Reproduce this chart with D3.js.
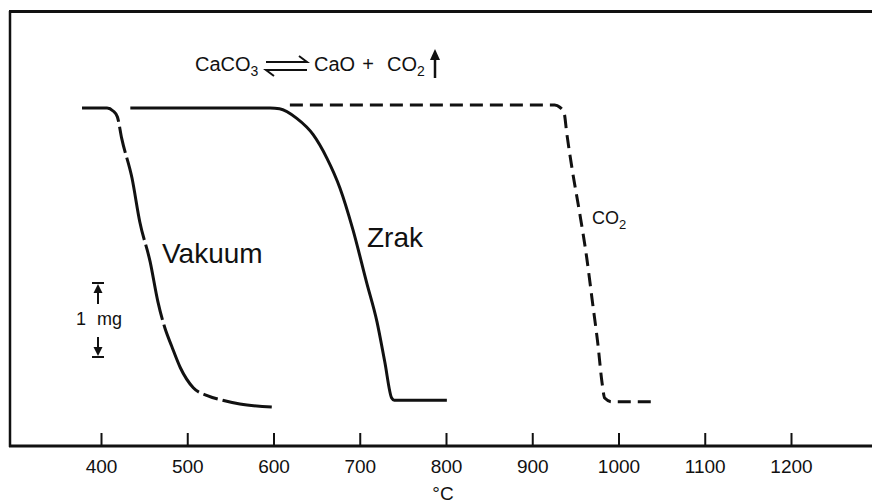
<!DOCTYPE html>
<html>
<head>
<meta charset="utf-8">
<script src="https://cdn.jsdelivr.net/npm/d3@7"></script>
<style>
  body { margin: 0; background: #fff; }
  svg { display: block; }
  text { font-family: "Liberation Sans", Arial, Helvetica, sans-serif; fill: #111; }
</style>
</head>
<body>
<svg id="chart" width="872" height="504"></svg>
<script>
// Thermogravimetric decomposition of CaCO3 in three atmospheres
// temperature in °C, mass change in mg relative to the starting mass
const xTicks = [400, 500, 600, 700, 800, 900, 1000, 1100, 1200];

const vakuumT = [378, 407, 414, 419, 424, 436, 445, 457, 466, 474, 482, 492, 507, 524, 541, 561, 598];
const vakuumM = [0, 0, -0.04, -0.12, -0.41, -0.95, -1.54, -2.08, -2.62, -2.97, -3.22, -3.51, -3.78, -3.89, -3.95, -4.0, -4.04];

const zrakT = [434, 596, 607, 627, 646, 662, 677, 692, 708, 720, 729, 737, 740, 801];
const zrakM = [0, 0, -0.01, -0.14, -0.36, -0.68, -1.08, -1.64, -2.36, -2.89, -3.43, -3.92, -3.95, -3.95];

const co2T = [619, 926, 932, 937, 940, 947, 955, 963, 970, 976, 981, 984, 992, 1045];
const co2M = [0.04, 0.04, 0.01, -0.07, -0.34, -0.88, -1.42, -2.01, -2.64, -3.18, -3.72, -3.92, -3.97, -3.97];

// where the vacuum trace is interrupted (temperatures along the trace)
const vakuumBreaksT = [421, 429, 451, 472, 516, 538];

// 1 mg scale bar: upper end (mg)
const scaleBarTop = -2.365;

const svg = d3.select("#chart");
const x = d3.scaleLinear().domain([400, 1200]).range([101, 791]);
const y = d3.scaleLinear().domain([0, -4]).range([108, 404]);

// frame: left and top edges, bottom axis line
const frame = svg.append("g").attr("stroke", "#111").attr("fill", "none");
frame.append("line").attr("x1", 10).attr("x2", 10).attr("y1", 11).attr("y2", 447).attr("stroke-width", 2.5);
frame.append("line").attr("x1", 9).attr("x2", 872).attr("y1", 11.5).attr("y2", 11.5).attr("stroke-width", 3);
frame.append("line").attr("x1", 9).attr("x2", 872).attr("y1", 446).attr("y2", 446).attr("stroke-width", 3);

// temperature axis with inward ticks
const axis = svg.append("g")
  .attr("transform", "translate(0,446)")
  .call(d3.axisBottom(x).tickValues(xTicks).tickSize(-13).tickPadding(14).tickFormat(d3.format("d")));
axis.select(".domain").remove();
axis.selectAll(".tick line").attr("stroke", "#111").attr("stroke-width", 2);
axis.selectAll(".tick text")
  .attr("font-size", 19)
  .attr("font-family", "'Liberation Sans', Arial, sans-serif")
  .attr("fill", "#111");

svg.append("text").attr("x", 443).attr("y", 500).attr("text-anchor", "middle")
  .attr("font-size", 19).text("°C");

// curves
const line = d3.line()
  .x(d => x(d[0]))
  .y(d => y(d[1]))
  .curve(d3.curveMonotoneX);

const vakuum = d3.zip(vakuumT, vakuumM);
const zrak = d3.zip(zrakT, zrakM);
const co2 = d3.zip(co2T, co2M);

const vPath = svg.append("path").datum(vakuum)
  .attr("d", line).attr("fill", "none").attr("stroke", "#111")
  .attr("stroke-width", 3).attr("stroke-linecap", "butt");

// build a dash pattern that leaves short gaps at the break temperatures
(function () {
  const node = vPath.node();
  const total = node.getTotalLength();
  const breaks = vakuumBreaksT.map(t => {
    const tx = x(t);
    let lo = 0, hi = total;
    for (let i = 0; i < 40; i++) {
      const mid = (lo + hi) / 2;
      if (node.getPointAtLength(mid).x < tx) lo = mid; else hi = mid;
    }
    return lo;
  }).sort((a, b) => a - b);
  const gap = 5;
  const dash = [];
  let pos = 0;
  breaks.forEach(b => {
    dash.push(Math.max(0, b - gap / 2 - pos), gap);
    pos = b + gap / 2;
  });
  dash.push(total - pos + 10, 0);
  vPath.attr("stroke-dasharray", dash.join(","));
})();

svg.append("path").datum(zrak)
  .attr("d", line).attr("fill", "none").attr("stroke", "#111")
  .attr("stroke-width", 3);

svg.append("path").datum(co2)
  .attr("d", line).attr("fill", "none").attr("stroke", "#111")
  .attr("stroke-width", 3).attr("stroke-dasharray", "13,7");

// curve labels
svg.append("text").attr("x", 162).attr("y", 263).attr("font-size", 28).text("Vakuum");
svg.append("text").attr("x", 367).attr("y", 247).attr("font-size", 28).text("Zrak");
const co2Lbl = svg.append("text").attr("x", 592).attr("y", 224).attr("font-size", 18);
co2Lbl.append("tspan").text("CO");
co2Lbl.append("tspan").attr("font-size", 13).attr("dy", 5).text("2");

// reaction equation
const eq = svg.append("g");
const eqY = 71;
const t1 = eq.append("text").attr("x", 195).attr("y", eqY).attr("font-size", 20);
t1.append("tspan").text("CaCO");
t1.append("tspan").attr("font-size", 14).attr("dy", 5).text("3");
eq.append("text").attr("x", 314).attr("y", eqY).attr("font-size", 20).text("CaO");
eq.append("text").attr("x", 368).attr("y", eqY).attr("font-size", 20).attr("text-anchor", "middle").text("+");
const t2 = eq.append("text").attr("x", 387).attr("y", eqY).attr("font-size", 20);
t2.append("tspan").text("CO");
t2.append("tspan").attr("font-size", 14).attr("dy", 5).text("2");

// equilibrium harpoons
eq.append("path")
  .attr("d", "M266,62 H307 L299,56")
  .attr("fill", "none").attr("stroke", "#111").attr("stroke-width", 2);
eq.append("path")
  .attr("d", "M307,70 H266 L274,76")
  .attr("fill", "none").attr("stroke", "#111").attr("stroke-width", 2);

// gas escape arrow
eq.append("line").attr("x1", 435).attr("x2", 435).attr("y1", 78).attr("y2", 56)
  .attr("stroke", "#111").attr("stroke-width", 2.5);
eq.append("path").attr("d", "M430,60 L435,49 L440,60 Z").attr("fill", "#111");

// 1 mg scale bar
const sb = svg.append("g").attr("stroke", "#111").attr("fill", "#111");
const sTop = y(scaleBarTop), sBot = y(scaleBarTop - 1), sx = 98;
sb.append("line").attr("x1", sx - 6).attr("x2", sx + 6).attr("y1", sTop).attr("y2", sTop).attr("stroke-width", 2);
sb.append("path").attr("d", `M${sx - 4.5},${sTop + 10} L${sx},${sTop + 1} L${sx + 4.5},${sTop + 10} Z`).attr("stroke", "none");
sb.append("line").attr("x1", sx).attr("x2", sx).attr("y1", sTop + 6).attr("y2", sTop + 21).attr("stroke-width", 2);
sb.append("line").attr("x1", sx - 6).attr("x2", sx + 6).attr("y1", sBot).attr("y2", sBot).attr("stroke-width", 2);
sb.append("path").attr("d", `M${sx - 4.5},${sBot - 10} L${sx},${sBot - 1} L${sx + 4.5},${sBot - 10} Z`).attr("stroke", "none");
sb.append("line").attr("x1", sx).attr("x2", sx).attr("y1", sBot - 6).attr("y2", sBot - 20).attr("stroke-width", 2);
svg.append("text").attr("x", 76).attr("y", 325).attr("font-size", 18).text("1");
svg.append("text").attr("x", 97).attr("y", 325).attr("font-size", 18).text("mg");
</script>
</body>
</html>
